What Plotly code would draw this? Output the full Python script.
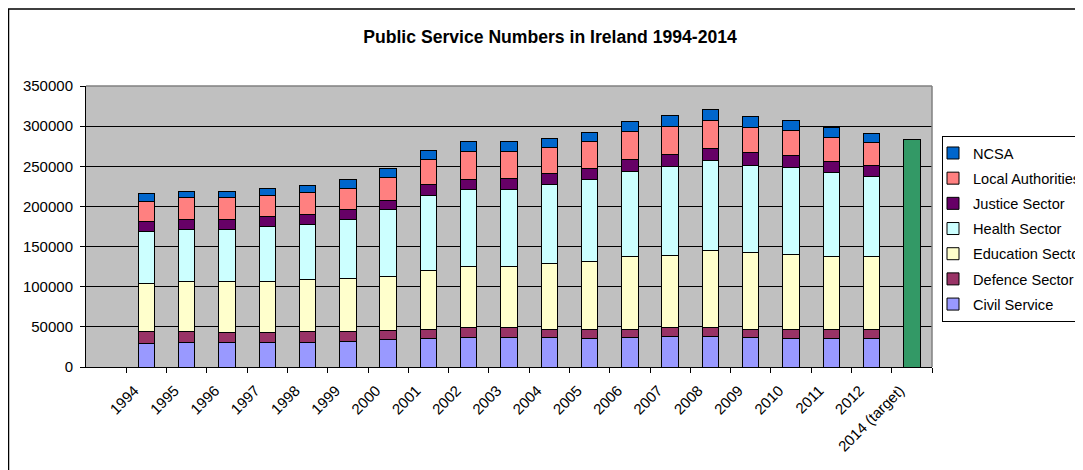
import plotly.graph_objects as go

years = ["1994", "1995", "1996", "1997", "1998", "1999", "2000", "2001", "2002", "2003",
         "2004", "2005", "2006", "2007", "2008", "2009", "2010", "2011", "2012"]
target_label = "2014 (target)"
categories = years + [target_label]

civil_service = [29100, 30700, 30700, 30700, 30700, 32000, 34100, 35700, 37000, 37000,
                 37000, 35700, 37000, 38200, 38200, 37000, 35300, 35300, 35300]
defence_sector = [15300, 13700, 12900, 12100, 13300, 12000, 11600, 11600, 11600, 11600,
                  10300, 11600, 10300, 10400, 11600, 10300, 11200, 11200, 11200]
education_sector = [59800, 62700, 62300, 64300, 64800, 66000, 67300, 73100, 76000, 76000,
                    81000, 83900, 90200, 90900, 94700, 94700, 93900, 91000, 91000]
health_sector = [64400, 64400, 65600, 67300, 69000, 73600, 82600, 93500, 96300, 96300,
                 98900, 102200, 106300, 109700, 112600, 109300, 108000, 104200, 100100]
justice_sector = [12100, 12100, 12100, 12500, 12000, 12400, 12000, 13300, 12500, 13700,
                  13300, 13300, 14500, 15400, 14900, 15300, 14900, 14100, 13700]
local_authorities = [25300, 27000, 27000, 26600, 27000, 26600, 28700, 31500, 34500, 33300,
                     33200, 34500, 34900, 35200, 34500, 31200, 31600, 29900, 28600]
ncsa = [9500, 7400, 7400, 8300, 8700, 10800, 10400, 10800, 12400, 12400,
        10800, 11200, 12000, 13300, 14100, 13700, 12000, 12100, 10800]
target_value = [282800]

series = [
    ("Civil Service", civil_service, "#9999FF"),
    ("Defence Sector", defence_sector, "#993366"),
    ("Education Sector", education_sector, "#FFFFCC"),
    ("Health Sector", health_sector, "#CCFFFF"),
    ("Justice Sector", justice_sector, "#660066"),
    ("Local Authorities", local_authorities, "#FF8080"),
    ("NCSA", ncsa, "#0066CC"),
]

FONT = "Liberation Sans, Arial, sans-serif"

fig = go.Figure()
for i, (name, vals, color) in enumerate(series):
    fig.add_trace(go.Bar(
        x=years, y=vals, name=name, legendgroup=name,
        legendrank=100 - i,
        marker=dict(color=color, line=dict(color="black", width=1)),
    ))
fig.add_trace(go.Bar(
    x=[target_label], y=target_value, name="Target", showlegend=False,
    marker=dict(color="#339966", line=dict(color="black", width=1)),
))

# the page body adds an 8px offset; work in reference pixel coordinates
OFF = 8
W, H = 1083 - OFF, 470 - OFF
L, R, T, B = 86, 932, 86, 367  # plot area in reference pixels

def px_x(p):
    return (p - L) / (R - L)

def px_y(p):
    return (B - p) / (B - T)

fig.update_layout(
    width=W, height=H,
    margin=dict(l=L - OFF, r=W - (R - OFF), t=T - OFF, b=H - (B - OFF), autoexpand=False),
    barmode="stack",
    bargap=0.59,
    paper_bgcolor="white",
    plot_bgcolor="#C0C0C0",
    font=dict(family=FONT, size=15, color="black"),
    title=dict(
        text="Public Service Numbers in Ireland 1994-2014",
        font=dict(family=FONT, size=17.6, color="black", weight="bold"),
        x=(550 - OFF) / W, xanchor="center", xref="container",
        y=1 - (37 - OFF) / H, yanchor="middle", yref="container",
    ),
    xaxis=dict(
        type="category",
        categoryorder="array", categoryarray=categories,
        range=[-1.5, len(categories) - 0.5],
        tickson="boundaries",
        showgrid=False,
        showline=True, linecolor="black", linewidth=1,
        ticks="outside", ticklen=5, tickcolor="black",
        tickangle=-45,
        ticklabelshift=-12, ticklabelstandoff=8,
        tickfont=dict(family=FONT, size=15, color="black"),
    ),
    yaxis=dict(
        range=[0, 350000], dtick=50000, tickformat="d",
        showgrid=True, gridcolor="black", gridwidth=1,
        showline=True, linecolor="black", linewidth=1,
        ticks="outside", ticklen=5, tickcolor="black",
        ticklabelstandoff=4,
        zeroline=False,
        tickfont=dict(family=FONT, size=15, color="black"),
    ),
    legend=dict(
        x=px_x(942), xanchor="left",
        y=px_y(136), yanchor="top",
        traceorder="grouped",
        tracegroupgap=3.2,
        indentation=-10,
        bgcolor="white", bordercolor="black", borderwidth=1,
        font=dict(family=FONT, size=14.6, color="black"),
    ),
    shapes=[
        dict(type="line", xref="paper", yref="paper", x0=0, x1=1, y0=1, y1=1,
             line=dict(color="#808080", width=1.5)),
        dict(type="line", xref="paper", yref="paper", x0=1, x1=1, y0=0, y1=1,
             line=dict(color="#808080", width=1.5)),
        dict(type="rect", xref="paper", yref="paper",
             x0=px_x(8.5), x1=px_x(1200), y0=px_y(600), y1=px_y(9),
             line=dict(color="black", width=1.5), fillcolor="rgba(0,0,0,0)"),
    ],
)

fig.write_html("out.html")
